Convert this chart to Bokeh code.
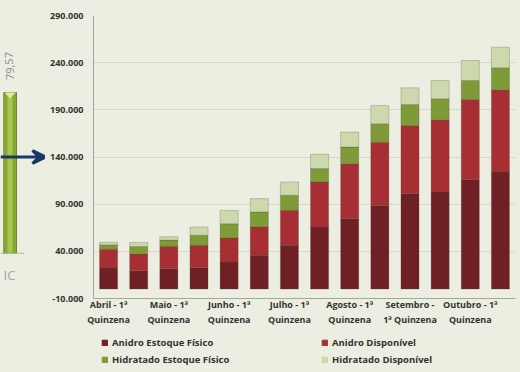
from bokeh.plotting import figure
from bokeh.layouts import row, column
from bokeh.models import FixedTicker, Legend, LegendItem, Arrow, VeeHead, ColumnDataSource
from bokeh.core.properties import value
from bokeh.embed import file_html
from bokeh.resources import INLINE

categories = ["Abril - 1ª Quinzena", "Abril - 2ª Quinzena",
              "Maio - 1ª Quinzena", "Maio - 2ª Quinzena",
              "Junho - 1ª Quinzena", "Junho - 2ª Quinzena",
              "Julho - 1ª Quinzena", "Julho - 2ª Quinzena",
              "Agosto - 1ª Quinzena", "Agosto - 2ª Quinzena",
              "Setembro - 1ª Quinzena", "Setembro - 2ª Quinzena",
              "Outubro - 1ª Quinzena", "Outubro - 2ª Quinzena"]
tick_labels = ["Abril - 1ª\nQuinzena", "", "Maio - 1ª\nQuinzena", "",
               "Junho - 1ª\nQuinzena", "", "Julho - 1ª\nQuinzena", "",
               "Agosto - 1ª\nQuinzena", "", "Setembro -\n1ª Quinzena", "",
               "Outubro - 1ª\nQuinzena", ""]

anidro_estoque = [22200, 19400, 21900, 22800, 28700, 35800, 46400, 65800, 74700, 88700, 101100, 102800, 116000, 124000]
anidro_disp = [20100, 18000, 23600, 23600, 25400, 30000, 37100, 47700, 58200, 67000, 72300, 76700, 85000, 87300]
hidr_estoque = [4600, 7800, 6400, 10600, 15200, 15900, 15900, 14200, 17600, 19500, 22200, 22200, 20100, 23300]
hidr_disp = [2800, 4200, 3500, 8800, 14100, 14200, 14100, 15100, 15900, 19400, 17700, 19400, 21200, 21800]

series_names = ["Anidro Estoque Físico", "Anidro Disponível",
                "Hidratado Estoque Físico", "Hidratado Disponível"]
y_ticks = [-10000, 40000, 90000, 140000, 190000, 240000, 290000]
y_tick_labels = ["-10.000", "40.000", "90.000", "140.000", "190.000", "240.000", "290.000"]

# fragment of a neighbouring gauge chart on the left edge
gauge_value_label = "79,57"
gauge_text = "IC"
gauge_low, gauge_high = 37900, 208400
arrow_value = 140000

BG = "#EBEEE0"
colors = ["#6E2024", "#A72F34", "#7E9B38", "#CDD8AC"]
keys = ["ae", "ad", "he", "hd"]
FONT = "Open Sans"

xpos = list(range(len(categories)))
source = ColumnDataSource(dict(x=xpos, ae=anidro_estoque, ad=anidro_disp,
                               he=hidr_estoque, hd=hidr_disp))

Y0, Y1 = -10000, 290000
TOP, BOTTOM = 15, 38
H_MAIN, H_LEG = 336, 36
LEFT_W, MAIN_W = 45, 475
LEG_W1 = 220

p = figure(x_range=(-0.5, len(categories) - 0.5), y_range=(Y0, Y1),
           width=MAIN_W, height=H_MAIN, output_backend="svg", toolbar_location=None,
           min_border_left=48, min_border_right=5, min_border_top=TOP, min_border_bottom=BOTTOM,
           background_fill_color=BG, border_fill_color=BG, outline_line_color=None)

renderers = p.vbar_stack(keys, x="x", width=0.6, source=source, color=colors,
                         line_color="#4a4a40", line_alpha=0.25, line_width=1)

p.yaxis.ticker = FixedTicker(ticks=y_ticks)
p.yaxis.major_label_overrides = {t: l for t, l in zip(y_ticks, y_tick_labels)}
p.yaxis.major_tick_line_color = None
p.yaxis.major_tick_out = 0
p.yaxis.major_tick_in = 0
p.yaxis.minor_tick_line_color = None
p.yaxis.major_label_standoff = 10
p.yaxis.axis_line_color = "#A4A79C"
p.yaxis.major_label_text_font = FONT
p.yaxis.major_label_text_font_style = "bold"
p.yaxis.major_label_text_font_size = "9px"
p.yaxis.major_label_text_color = "#333333"

p.xaxis.ticker = FixedTicker(ticks=xpos[::2])
p.xaxis.major_label_overrides = {i: l for i, l in zip(xpos, tick_labels) if l}
p.xaxis.major_tick_line_color = None
p.xaxis.major_tick_out = 0
p.xaxis.major_tick_in = 0
p.xaxis.minor_tick_line_color = None
p.xaxis.major_label_standoff = -1
p.xaxis.axis_line_color = "#A4A79C"
p.xaxis.major_label_text_font = FONT
p.xaxis.major_label_text_font_style = "bold"
p.xaxis.major_label_text_font_size = "9px"
p.xaxis.major_label_text_color = "#333333"

p.xgrid.grid_line_color = None
p.ygrid.grid_line_color = "#D6D9C8"
p.ygrid.grid_line_width = 1

# legend strip below the chart, two columns (hidden copies of the bars provide the swatches)
def legend_panel(idx, w):
    f = figure(x_range=(-0.5, len(categories) - 0.5), y_range=(Y0, Y1), width=w, height=H_LEG,
               output_backend="svg", toolbar_location=None, min_border=0, min_border_left=56,
               x_axis_location=None, y_axis_location=None,
               background_fill_color=BG, border_fill_color=BG, outline_line_color=None)
    f.grid.visible = False
    sw = {i: f.vbar(x="x", top=keys[i], width=0.6, source=source, color=colors[i], visible=False)
          for i in idx}
    f.add_layout(Legend(items=[LegendItem(label=series_names[i], renderers=[sw[i]]) for i in idx],
                        location="top_left", orientation="vertical",
                        background_fill_alpha=0, border_line_color=None,
                        inactive_fill_alpha=0,
                        padding=0, margin=0, spacing=4,
                        glyph_width=7, glyph_height=7, label_height=13, label_standoff=4,
                        label_text_font=FONT, label_text_font_style="bold",
                        label_text_font_size="9.5px", label_text_color="#333333"))
    return f

lf1 = legend_panel([0, 2], LEG_W1)
lf2 = legend_panel([1, 3], MAIN_W - LEG_W1)

# left strip with the gauge fragment
H = H_MAIN + H_LEG
px_per_unit = (Y1 - Y0) / (H_MAIN - TOP - BOTTOM)
left = figure(x_range=(0, LEFT_W),
              y_range=(Y0 - (BOTTOM + H_LEG) * px_per_unit, Y1 + TOP * px_per_unit),
              width=LEFT_W, height=H, output_backend="svg", toolbar_location=None,
              min_border=0, x_axis_location=None, y_axis_location=None,
              background_fill_color=BG, border_fill_color=BG, outline_line_color=None)
left.grid.visible = False
left.quad(left=[3.3], right=[16], bottom=[gauge_low], top=[gauge_high],
          fill_color="#86A834", line_color="#6C8B25")
left.quad(left=[7], right=[12], bottom=[gauge_low], top=[gauge_high],
          fill_color="#A6C650", line_color=None)
left.patch(x=[4, 15.3, 9.6], y=[gauge_high, gauge_high, gauge_high - 6000],
           fill_color="#DDE9A8", line_color=None)
left.segment(x0=[0], x1=[24], y0=[gauge_low], y1=[gauge_low], line_color="#B5B8AC", line_width=1)
left.text(x=[9], y=[gauge_high + 28000], text=[gauge_value_label], angle=1.5708,
          text_align="center", text_baseline="middle", text_color="#8C8C8C",
          text_font=value(FONT), text_font_size="11px")
left.text(x=[9], y=[gauge_low - 23000], text=[gauge_text], text_align="center",
          text_baseline="middle", text_color="#A3A3A3", text_font=value(FONT),
          text_font_size="13px")
left.add_layout(Arrow(x_start=0, y_start=arrow_value, x_end=45, y_end=arrow_value,
                      line_color="#1C3667", line_width=3,
                      end=VeeHead(size=13, fill_color="#1C3667", line_color="#1C3667", line_width=3)))

layout = row(left, column(p, row(lf1, lf2, spacing=0), spacing=0), spacing=0,
             styles={"background-color": BG})
open("out.html", "w").write(file_html(layout, INLINE))
